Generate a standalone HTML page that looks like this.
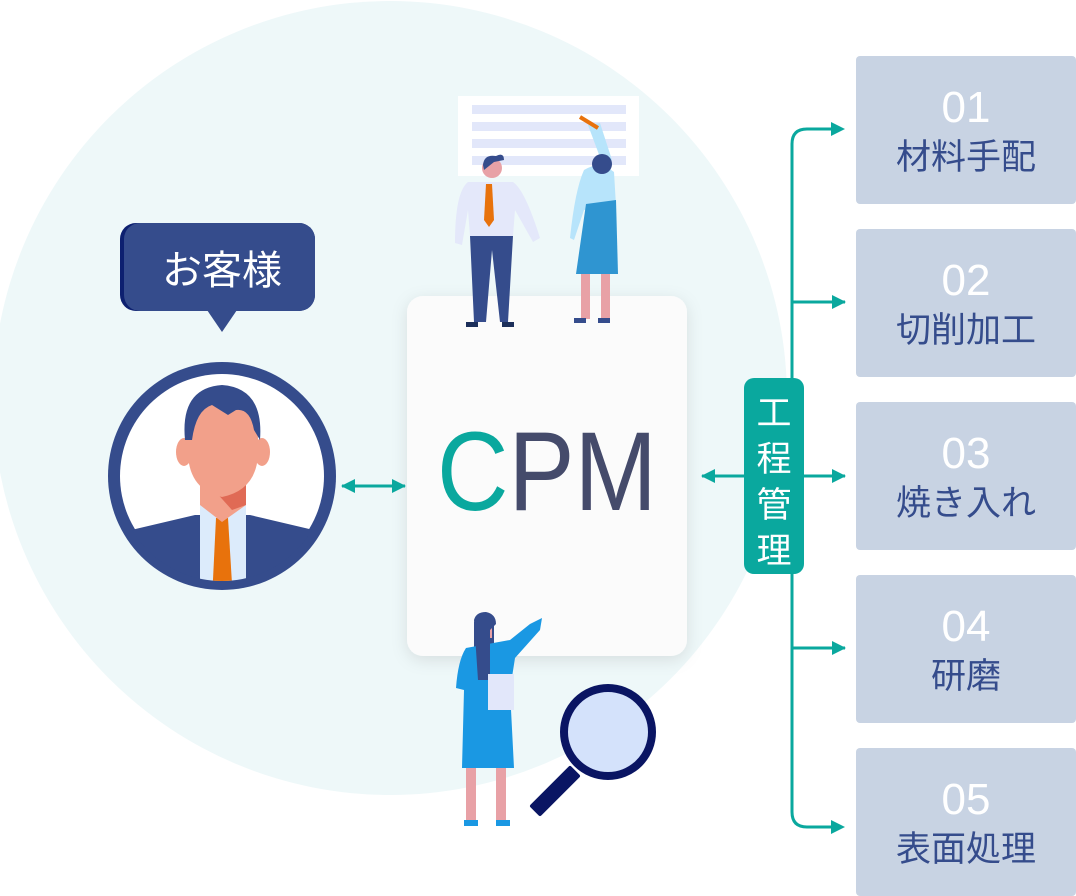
<!DOCTYPE html>
<html><head><meta charset="utf-8"><style>
html,body{margin:0;padding:0;background:#fff;}
svg{display:block;}
text{font-family:"Liberation Sans","Noto Sans CJK JP",sans-serif;}
</style></head><body>
<svg width="1076" height="896" viewBox="0 0 1076 896" xmlns="http://www.w3.org/2000/svg">
<defs>
<filter id="sh" x="-20%" y="-20%" width="140%" height="140%"><feDropShadow dx="0" dy="4" stdDeviation="8" flood-color="#000" flood-opacity="0.10"/></filter>
<marker id="ah" markerWidth="14" markerHeight="14" refX="13" refY="7" orient="auto" markerUnits="userSpaceOnUse"><path d="M0,0 L14,7 L0,14 z" fill="#0aa89e"/></marker>
<marker id="ahs" markerWidth="14" markerHeight="14" refX="1" refY="7" orient="auto" markerUnits="userSpaceOnUse"><path d="M14,0 L0,7 L14,14 z" fill="#0aa89e"/></marker>
<clipPath id="av"><circle cx="222" cy="476" r="105"/></clipPath>
</defs>
<circle cx="390" cy="398" r="397" fill="#eef8f9"/>

<rect x="407" y="296" width="280" height="360" rx="16" fill="#fbfbfb" filter="url(#sh)"/>
<text x="437" y="510" font-size="112" textLength="220" lengthAdjust="spacingAndGlyphs"><tspan fill="#0aa89e">C</tspan><tspan fill="#454b6b">PM</tspan></text>

<rect x="120" y="223" width="195" height="88" rx="16" fill="#0d2070"/>
<rect x="124" y="223" width="191" height="88" rx="16" fill="#354c8c"/>
<path d="M207,310 L222,332 L237,310 z" fill="#354c8c"/>
<text x="222" y="284" font-size="40" fill="#fff" text-anchor="middle">お客様</text>

<circle cx="222" cy="476" r="114" fill="#354c8c"/>
<circle cx="222" cy="476" r="102" fill="#fff"/>
<g clip-path="url(#av)">
<path d="M110,535 L195,515 L250,515 L335,535 L335,600 L110,600 z" fill="#354c8c"/>
<rect x="200" y="495" width="46" height="100" fill="#dcebfb"/>
<path d="M216,518 L228,518 L233,600 L212,600 z" fill="#e8720c"/>
<path d="M200,470 L246,470 L246,505 L222,522 L200,505 z" fill="#f2a08a"/>
<path d="M214,490 L246,480 L246,505 L232,510 z" fill="#e06a55"/>
</g>
<ellipse cx="184" cy="452" rx="8" ry="14" fill="#f2a08a"/>
<ellipse cx="262" cy="452" rx="8" ry="14" fill="#f2a08a"/>
<path d="M188,420 Q188,395 222,393 Q258,395 258,420 L258,455 Q256,490 222,497 Q190,490 188,455 z" fill="#f2a08a"/>
<path d="M185,440 Q180,388 222,385 Q264,388 260,440 L254,430 Q250,408 236,410 L228,415 L212,405 Q196,410 192,440 z" fill="#354c8c"/>

<line x1="342" y1="486" x2="405" y2="486" stroke="#0aa89e" stroke-width="3" marker-end="url(#ah)" marker-start="url(#ahs)"/>

<rect x="458" y="96" width="181" height="80" fill="#fff"/>
<rect x="472" y="105" width="154" height="9" fill="#e2e7fa"/>
<rect x="472" y="122" width="154" height="9" fill="#e2e7fa"/>
<rect x="472" y="139" width="154" height="9" fill="#e2e7fa"/>
<rect x="472" y="156" width="154" height="9" fill="#e2e7fa"/>
<path d="M470,236 L513,236 L508,322 L500,322 L492,250 L486,322 L474,322 z" fill="#354c8c"/>
<rect x="466" y="322" width="12" height="5" fill="#1c2f5a"/><rect x="502" y="322" width="12" height="5" fill="#1c2f5a"/>
<path d="M468,182 L513,182 Q525,190 540,238 L533,242 L515,210 L513,236 L470,236 L468,210 L462,245 L455,243 Q455,192 468,182 z" fill="#e4e8fa"/>
<path d="M486,184 L492,184 L494,220 L489,227 L484,220 z" fill="#e8720c"/>
<circle cx="492" cy="168" r="10" fill="#e8a1a6"/>
<path d="M483,165 Q484,154 496,156 Q504,152 504,160 L494,162 L484,170 z" fill="#354c8c"/>
<path d="M588,125 L600,123 L612,160 L604,168 z" fill="#b7e4fb"/>
<path d="M580,117 L598,128" stroke="#e8720c" stroke-width="4"/>
<path d="M584,170 Q600,160 614,172 L616,206 L584,210 L574,240 L570,238 Q575,190 584,170 z" fill="#b7e4fb"/>
<path d="M586,204 L616,200 L618,274 L576,274 z" fill="#2f95d1"/>
<rect x="581" y="274" width="9" height="45" fill="#e8a1a6"/><rect x="601" y="274" width="9" height="45" fill="#e8a1a6"/>
<rect x="574" y="318" width="12" height="5" fill="#354c8c"/><rect x="598" y="318" width="12" height="5" fill="#354c8c"/>
<circle cx="602" cy="164" r="10" fill="#354c8c"/>

<path d="M474,622 Q484,612 494,622 L494,680 L474,680 z" fill="#354c8c"/>
<rect x="478" y="620" width="14" height="18" fill="#e8a1a6"/>
<path d="M466,648 L510,640 L530,624 L542,618 L540,630 L515,658 L510,690 L514,768 L462,768 L464,690 L456,688 Q458,660 466,648 z" fill="#1a98e3"/>
<path d="M474,620 Q476,612 486,612 Q496,614 496,624 L490,630 L490,680 L478,680 z" fill="#354c8c"/>
<rect x="488" y="674" width="26" height="36" fill="#e2e7fa"/>
<rect x="466" y="768" width="10" height="52" fill="#e8a1a6"/><rect x="496" y="768" width="10" height="52" fill="#e8a1a6"/>
<rect x="464" y="820" width="14" height="6" fill="#1a98e3"/><rect x="496" y="820" width="14" height="6" fill="#1a98e3"/>
<path d="M532,806 L570,768 L578,776 L540,814 z" fill="#0a1563" stroke="#0a1563" stroke-width="4" stroke-linejoin="round"/>
<circle cx="608" cy="732" r="44" fill="#d4e2fb" stroke="#0a1563" stroke-width="8"/>

<path d="M832,129 L807,129 Q792,129 792,144 L792,812 Q792,827 807,827 L832,827" fill="none" stroke="#0aa89e" stroke-width="3"/>
<path d="M845,129 l-14,-7 v14z M845,827 l-14,-7 v14z" fill="#0aa89e"/>
<line x1="792" y1="302" x2="845" y2="302" stroke="#0aa89e" stroke-width="3" marker-end="url(#ah)"/>
<line x1="702" y1="476" x2="845" y2="476" stroke="#0aa89e" stroke-width="3" marker-end="url(#ah)" marker-start="url(#ahs)"/>
<line x1="792" y1="648" x2="845" y2="648" stroke="#0aa89e" stroke-width="3" marker-end="url(#ah)"/>
<rect x="744" y="378" width="60" height="196" rx="10" fill="#0aa89e"/>
<g fill="#fff" font-size="35" text-anchor="middle">
<text x="774" y="425">工</text><text x="774" y="471">程</text><text x="774" y="517">管</text><text x="774" y="563">理</text>
</g>

<g font-size="35" text-anchor="middle">
<rect x="856" y="56" width="220" height="148" rx="4" fill="#c8d3e3"/>
<text x="966" y="122" fill="#fff" font-size="44">01</text><text x="966" y="169" fill="#354c8c">材料手配</text>
<rect x="856" y="229" width="220" height="148" rx="4" fill="#c8d3e3"/>
<text x="966" y="295" fill="#fff" font-size="44">02</text><text x="966" y="342" fill="#354c8c">切削加工</text>
<rect x="856" y="402" width="220" height="148" rx="4" fill="#c8d3e3"/>
<text x="966" y="468" fill="#fff" font-size="44">03</text><text x="966" y="515" fill="#354c8c">焼き入れ</text>
<rect x="856" y="575" width="220" height="148" rx="4" fill="#c8d3e3"/>
<text x="966" y="641" fill="#fff" font-size="44">04</text><text x="966" y="688" fill="#354c8c">研磨</text>
<rect x="856" y="748" width="220" height="148" rx="4" fill="#c8d3e3"/>
<text x="966" y="814" fill="#fff" font-size="44">05</text><text x="966" y="861" fill="#354c8c">表面処理</text>
</g>
</svg>
</body></html>
